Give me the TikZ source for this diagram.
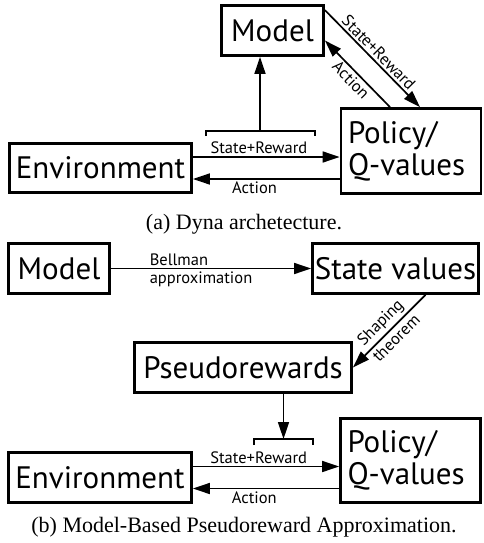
\documentclass[tikz,border=0pt]{standalone}
\usepackage{fontspec}
\setmainfont{Liberation Serif}
\setsansfont{PT Sans}
\usetikzlibrary{arrows.meta, positioning, calc}

\begin{document}
\begin{tikzpicture}[x=1pt, y=-1pt, >={Triangle[length=17pt, width=11pt]}]
        \tikzstyle{block} = [rectangle, draw, line width=2.8pt, minimum height=50pt, inner sep=0pt, font=\sffamily\fontsize{31}{32}\selectfont]
        \tikzstyle{policy} = [block, align=left, text width=126pt, inner xsep=7pt]
        \tikzstyle{flow} = [draw, ->, line width=1.7pt]
        \tikzstyle{lbl} = [font=\sffamily\fontsize{16.5}{17}\selectfont, inner sep=2pt]
        \tikzstyle{caption} = [font=\rmfamily\fontsize{22}{24}\selectfont]
        \tikzstyle{brace} = [draw, line width=1.5pt]

        \useasboundingbox (0,0) rectangle (483,543);

        \node [block, minimum width=102pt] (model) at (272.5,30.5) {Model};
        \node [block, minimum width=182pt, minimum height=49pt] (env) at (100.5,168) {Environment};
        \node [policy, minimum height=85pt] (policy) at (411,151) {Policy/\\Q-values};
        \node [caption] (capa) at (244,224) {(a) Dyna archetecture.};
        \coordinate (bra) at (260,131);

        \path [brace] ([xshift=-54pt,yshift=-5pt]bra) -- ([xshift=-54pt]bra) -- ([xshift=55pt]bra) -- ([xshift=55pt,yshift=-5pt]bra);
        \path [flow] ([yshift=11pt]env.east) -- node [lbl, above, pos=0.45] {State+Reward} ([yshift=11pt]env.east -| policy.west);
        \path [flow] ([yshift=-11pt]env.east -| policy.west) -- node [lbl, below, pos=0.58] {Action} ([yshift=-11pt]env.east);
        \path [flow] (bra) -- (bra |- model.south);
        \path [flow] ([yshift=-6pt]model.north east) -- node [lbl, sloped, above] {State+Reward} ([xshift=9pt]policy.north);
        \path [flow] ([xshift=-21pt]policy.north) -- node [lbl, sloped, below] {Action} ([yshift=-10pt]model.east);

        \node [block, minimum width=101pt] (model2) at (59,268.5) {Model};
        \node [block, minimum width=166pt] (values) at (395.5,268.5) {State values};
        \node [block, minimum width=217pt] (pseudo) at (243,367.5) {Pseudorewards};
        \node [block, minimum width=183pt] (env2) at (100,477.5) {Environment};
        \node [policy, minimum height=84pt] (policy2) at (410.5,460.5) {Policy/\\Q-values};
        \node [caption] (capb) at (244,527) {(b) Model-Based Pseudoreward Approximation.};
        \coordinate (brb) at (283.5,439);

        \path [flow] (model2) -- node [lbl, pos=0.18, anchor=south west] {Bellman} node [lbl, pos=0.18, anchor=north west] {approximation} (values);
        \path [flow] ([xshift=30pt]values.south) -- node [lbl, sloped, above, inner sep=3pt] {Shaping} node [lbl, sloped, below, inner sep=3pt] {theorem} (pseudo.east);
        \path [brace] ([xshift=-29.5pt,yshift=-6pt]brb) -- ([xshift=-29.5pt]brb) -- ([xshift=29.5pt]brb) -- ([xshift=29.5pt,yshift=-6pt]brb);
        \path [flow] (pseudo.south -| brb) -- (brb);
        \path [flow] ([yshift=11pt]env2.east) -- node [lbl, above, pos=0.45] {State+Reward} ([yshift=11pt]env2.east -| policy2.west);
        \path [flow] ([yshift=-11pt]env2.east -| policy2.west) -- node [lbl, below, pos=0.58] {Action} ([yshift=-11pt]env2.east);
    \end{tikzpicture}
\end{document}
